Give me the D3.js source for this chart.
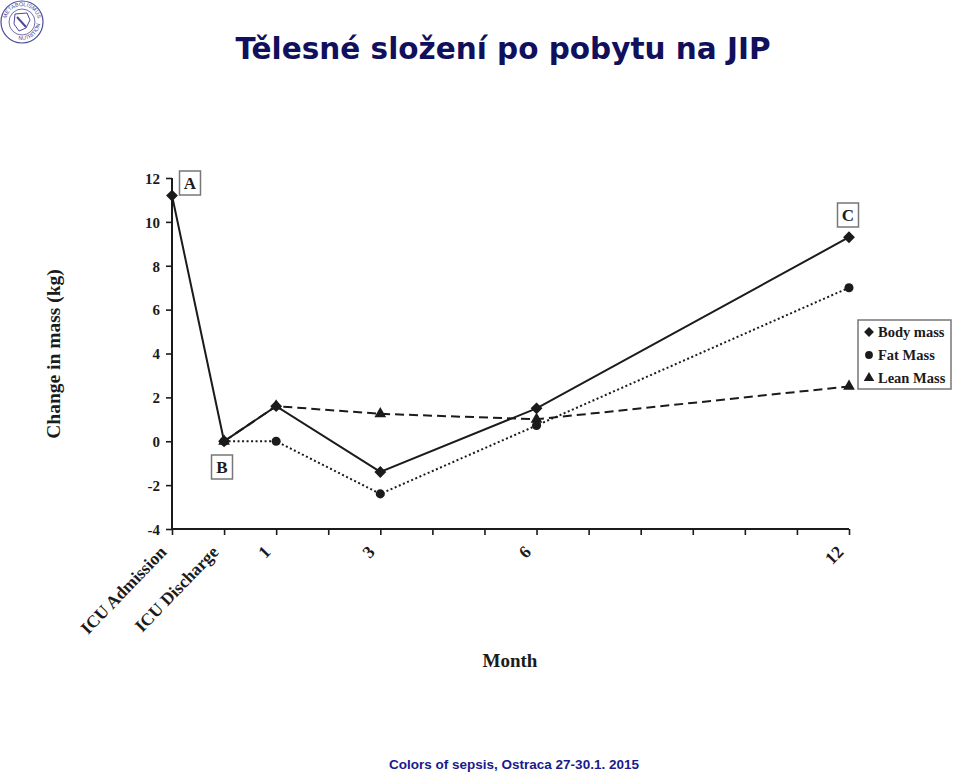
<!DOCTYPE html>
<html>
<head>
<meta charset="utf-8">
<script src="https://cdn.jsdelivr.net/npm/d3@7"></script>
<style>
  html, body { margin: 0; padding: 0; background: #fff; }
  svg { display: block; }
</style>
</head>
<body>
<svg id="chart" width="959" height="777"></svg>
<script>
// ---- data ----
const title = "Tělesné složení po pobytu na JIP";
const footer = "Colors of sepsis, Ostraca 27-30.1. 2015";
const months = [-1, 0, 1, 3, 6, 12];          // -1 = ICU Admission, 0 = ICU Discharge
const bodyMass = [11.2, 0, 1.6, -1.4, 1.5, 9.3];
const fatMass  = [null, 0, 0.0, -2.4, 0.72, 7.0];
const leanMass = [null, 0, 1.6, 1.25, 1.0, 2.5];
const xTicks = [-1, 0, 1, 2, 3, 4, 5, 6, 7, 8, 9, 10, 11, 12];
const xTickLabels = {"-1": "ICU Admission", "0": "ICU Discharge", "1": "1", "3": "3", "6": "6", "12": "12"};
const yTicks = [-4, -2, 0, 2, 4, 6, 8, 10, 12];
const seriesNames = ["Body mass", "Fat Mass", "Lean Mass"];

const svg = d3.select("#chart");
const serif = "'Liberation Serif', 'DejaVu Serif', serif";
const ink = "#1b1b1b";

const x = d3.scaleLinear().domain([-1, 12]).range([172, 849]);
const y = d3.scaleLinear().domain([-4, 12]).range([529, 178]);

// rotated-square diamond
const squareDiamond = {
  draw(ctx, size) {
    const r = Math.sqrt(size / 2);
    ctx.moveTo(0, -r); ctx.lineTo(r, 0); ctx.lineTo(0, r); ctx.lineTo(-r, 0); ctx.closePath();
  }
};

// title
svg.append("text")
  .attr("x", 503).attr("y", 59)
  .attr("text-anchor", "middle")
  .attr("font-family", "'DejaVu Sans', sans-serif")
  .attr("font-weight", "bold")
  .attr("font-size", 29.5)
  .attr("fill", "#10105c")
  .text(title);

// footer
svg.append("text")
  .attr("x", 514).attr("y", 769)
  .attr("text-anchor", "middle")
  .attr("font-family", "'Liberation Sans', Arial, sans-serif")
  .attr("font-weight", "bold")
  .attr("font-size", 13.5)
  .attr("fill", "#1a1a8c")
  .text(footer);

// logo (top-left)
const logo = svg.append("g").attr("transform", "translate(22,22)");
logo.append("circle").attr("r", 21).attr("fill", "#fff").attr("stroke", "#4a4a9a").attr("stroke-width", 1.2);
logo.append("circle").attr("r", 13).attr("fill", "none").attr("stroke", "#4a4a9a").attr("stroke-width", 0.8);
logo.append("path").attr("d", "M-7,-8 L5,-9 L8,-2 L4,6 L-3,9 L-8,2 Z").attr("fill", "none").attr("stroke", "#4a4a9a").attr("stroke-width", 1);
logo.append("path").attr("d", "M-5,-5 L4,5").attr("stroke", "#4a4a9a").attr("stroke-width", 2);
logo.append("path").attr("id", "logoArcTop").attr("d", "M-16,0 A16,16 0 0,1 16,0").attr("fill", "none");
logo.append("path").attr("id", "logoArcBot").attr("d", "M-18,0 A18,18 0 0,0 18,0").attr("fill", "none");
logo.append("text").attr("font-size", 5.5).attr("font-family", "'Liberation Sans', sans-serif").attr("fill", "#4a4a9a")
  .append("textPath").attr("href", "#logoArcTop").attr("startOffset", "50%").attr("text-anchor", "middle").text("METABOLISMUS");
logo.append("text").attr("font-size", 5.5).attr("font-family", "'Liberation Sans', sans-serif").attr("fill", "#4a4a9a")
  .append("textPath").attr("href", "#logoArcBot").attr("startOffset", "70%").attr("text-anchor", "middle").text("NUTRITION");

// axes
const yAxis = d3.axisLeft(y).tickValues(yTicks).tickSize(6).tickFormat(d => String(d));
const gy = svg.append("g").attr("transform", "translate(172,0)").call(yAxis);
gy.select(".domain").attr("stroke", ink).attr("stroke-width", 2).attr("d", "M0," + y(12) + "V" + y(-4));
gy.selectAll(".tick line").attr("stroke", ink).attr("stroke-width", 1.6);
gy.selectAll(".tick text")
  .attr("font-family", serif).attr("font-weight", "bold").attr("font-size", 15)
  .attr("fill", ink).attr("x", -12).attr("dy", "0.35em");

const xAxis = d3.axisBottom(x).tickValues(xTicks).tickSize(6).tickFormat(d => xTickLabels[d] || "");
const gx = svg.append("g").attr("transform", "translate(0," + y(-4) + ")").call(xAxis);
gx.select(".domain").attr("stroke", ink).attr("stroke-width", 2).attr("d", "M" + x(-1) + ",0H" + x(12));
gx.selectAll(".tick line").attr("stroke", ink).attr("stroke-width", 1.6);
gx.selectAll(".tick text")
  .attr("font-family", serif).attr("font-weight", "bold").attr("font-size", 17.5)
  .attr("fill", ink)
  .attr("text-anchor", "end")
  .attr("dy", 0)
  .attr("y", 0)
  .attr("transform", "translate(-5,24) rotate(-46)");

// axis titles
svg.append("text")
  .attr("transform", "translate(60,354) rotate(-90)")
  .attr("text-anchor", "middle")
  .attr("font-family", serif).attr("font-weight", "bold").attr("font-size", 19.5)
  .attr("fill", ink)
  .text("Change in mass (kg)");
svg.append("text")
  .attr("x", 510).attr("y", 667)
  .attr("text-anchor", "middle")
  .attr("font-family", serif).attr("font-weight", "bold").attr("font-size", 19)
  .attr("fill", ink)
  .text("Month");

// series
const series = [
  { name: seriesNames[0], values: bodyMass, dash: null, sym: squareDiamond, size: 70 },
  { name: seriesNames[1], values: fatMass,  dash: "2,2.5", sym: d3.symbolCircle, size: 65 },
  { name: seriesNames[2], values: leanMass, dash: "9,5", sym: d3.symbolTriangle, size: 60 }
];
const line = d3.line().defined(d => d[1] != null).x(d => x(d[0])).y(d => y(d[1]));

[2, 1, 0].forEach(i => {
  const s = series[i];
  const pts = months.map((m, j) => [m, s.values[j]]);
  svg.append("path")
    .attr("d", line(pts))
    .attr("fill", "none")
    .attr("stroke", ink)
    .attr("stroke-width", 2)
    .attr("stroke-dasharray", s.dash);
});
[2, 1, 0].forEach(i => {
  const s = series[i];
  const pts = months.map((m, j) => [m, s.values[j]]).filter(d => d[1] != null);
  svg.selectAll(null).data(pts).enter().append("path")
    .attr("d", d3.symbol().type(s.sym).size(s.size))
    .attr("transform", d => "translate(" + x(d[0]) + "," + y(d[1]) + ")")
    .attr("fill", ink);
});

// annotation boxes
function boxLabel(cx, cy, txt) {
  svg.append("rect")
    .attr("x", cx - 10.5).attr("y", cy - 12).attr("width", 21).attr("height", 24)
    .attr("fill", "#fff").attr("stroke", "#777").attr("stroke-width", 1.5);
  svg.append("text")
    .attr("x", cx).attr("y", cy + 6)
    .attr("text-anchor", "middle")
    .attr("font-family", serif).attr("font-weight", "bold").attr("font-size", 17)
    .attr("fill", ink)
    .text(txt);
}
boxLabel(190, 183, "A");
boxLabel(222, 467, "B");
boxLabel(848, 215, "C");

// legend
const lg = svg.append("g");
lg.append("rect").attr("x", 858).attr("y", 320).attr("width", 93).attr("height", 69)
  .attr("fill", "#fff").attr("stroke", "#777").attr("stroke-width", 1.5);
series.forEach((s, i) => {
  const cy = 332 + i * 23;
  lg.append("path")
    .attr("d", d3.symbol().type(s.sym).size(48))
    .attr("transform", "translate(869," + cy + ")")
    .attr("fill", ink);
  lg.append("text")
    .attr("x", 878).attr("y", cy + 5)
    .attr("font-family", serif).attr("font-weight", "bold").attr("font-size", 14.5)
    .attr("fill", ink)
    .text(s.name);
});
</script>
</body>
</html>
